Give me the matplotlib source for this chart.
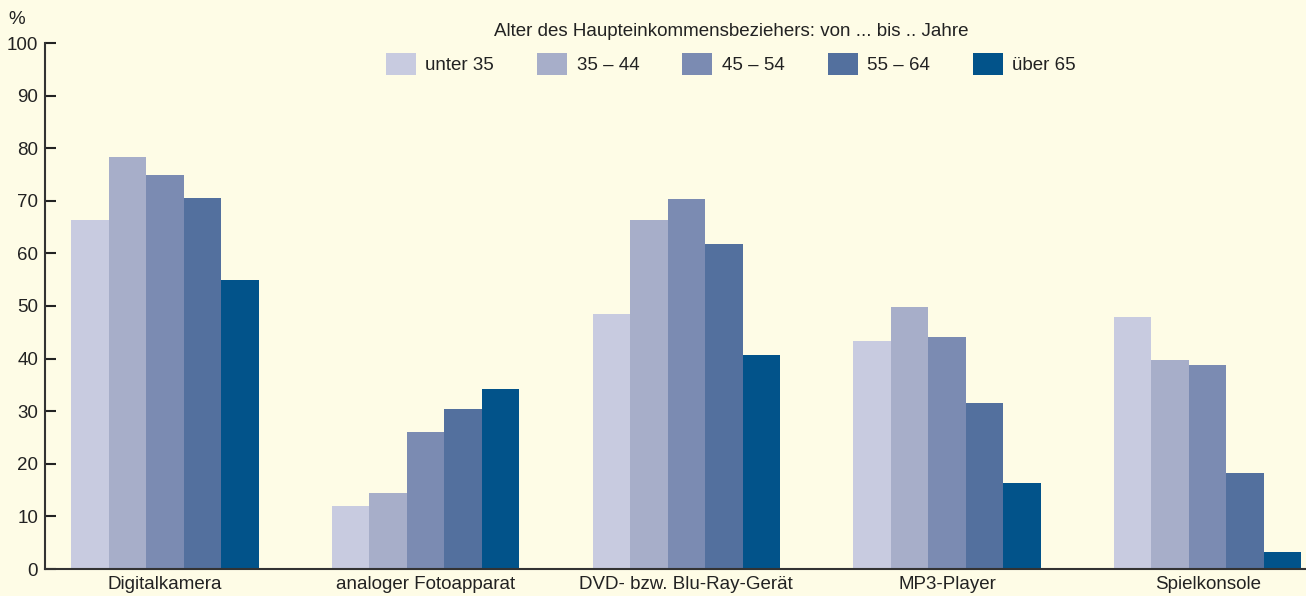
import matplotlib.pyplot as plt
import numpy as np

# Geräte und Anteile je Altersgruppe (in %)
categories = ["Digitalkamera", "analoger Fotoapparat", "DVD- bzw. Blu-Ray-Gerät",
              "MP3-Player", "Spielkonsole"]
groups = ["unter 35", "35 – 44", "45 – 54", "55 – 64", "über 65"]
unter35 = [66.4, 11.9, 48.5, 43.3, 47.9]
a35_44 = [78.4, 14.5, 66.4, 49.9, 39.7]
a45_54 = [74.9, 26.1, 70.4, 44.2, 38.7]
a55_64 = [70.6, 30.5, 61.7, 31.5, 18.2]
ueber65 = [54.9, 34.3, 40.6, 16.3, 3.3]
values = [unter35, a35_44, a45_54, a55_64, ueber65]
colors = ["#c8cbe0", "#a7aec9", "#7b8bb2", "#53709e", "#02538a"]
bg = "#fefce6"
txt = "#222222"

plt.rcParams['font.family'] = ['Liberation Sans', 'DejaVu Sans']

fig = plt.figure(figsize=(13.06, 5.96), dpi=100, facecolor=bg)
ax = fig.add_axes([45 / 1306, 27 / 596, 1 - 45 / 1306, 526 / 596], facecolor=bg)

x = np.arange(len(categories))
w = 0.1438
for i, (g, v) in enumerate(zip(groups, values)):
    ax.bar(x + (i - 2) * w, v, width=w, color=colors[i], label=g, linewidth=0)

ax.set_xlim(-0.46, 4.377)
ax.set_ylim(0, 100)
ax.set_yticks(range(0, 101, 10))
ax.set_xticks(x)
ax.set_xticklabels(categories, fontsize=13.5, color=txt)
ax.tick_params(axis='x', length=0, pad=5)
ax.tick_params(axis='y', direction='in', length=8, width=1.5, labelsize=13.5,
               colors=txt, pad=5)
for s in ['top', 'right']:
    ax.spines[s].set_visible(False)
for s in ['left', 'bottom']:
    ax.spines[s].set_linewidth(1.5)
    ax.spines[s].set_color("#333333")

fig.text(8 / 1306, 1 - 28 / 596, "%", fontsize=13.5, color=txt, ha='left', va='bottom')

leg = fig.legend(loc='center', bbox_to_anchor=(731 / 1306, 1 - 49 / 596), ncol=5,
                 frameon=False, fontsize=13.5,
                 title="Alter des Haupteinkommensbeziehers: von ... bis .. Jahre",
                 title_fontsize=13.5, handlelength=1.6, handleheight=1.4,
                 handletextpad=0.5, columnspacing=2.3, labelspacing=0.3)
leg._legend_box.sep = 9
leg.get_title().set_color(txt)
for t in leg.get_texts():
    t.set_color(txt)

fig.savefig("out.png", dpi=100, facecolor=bg)
